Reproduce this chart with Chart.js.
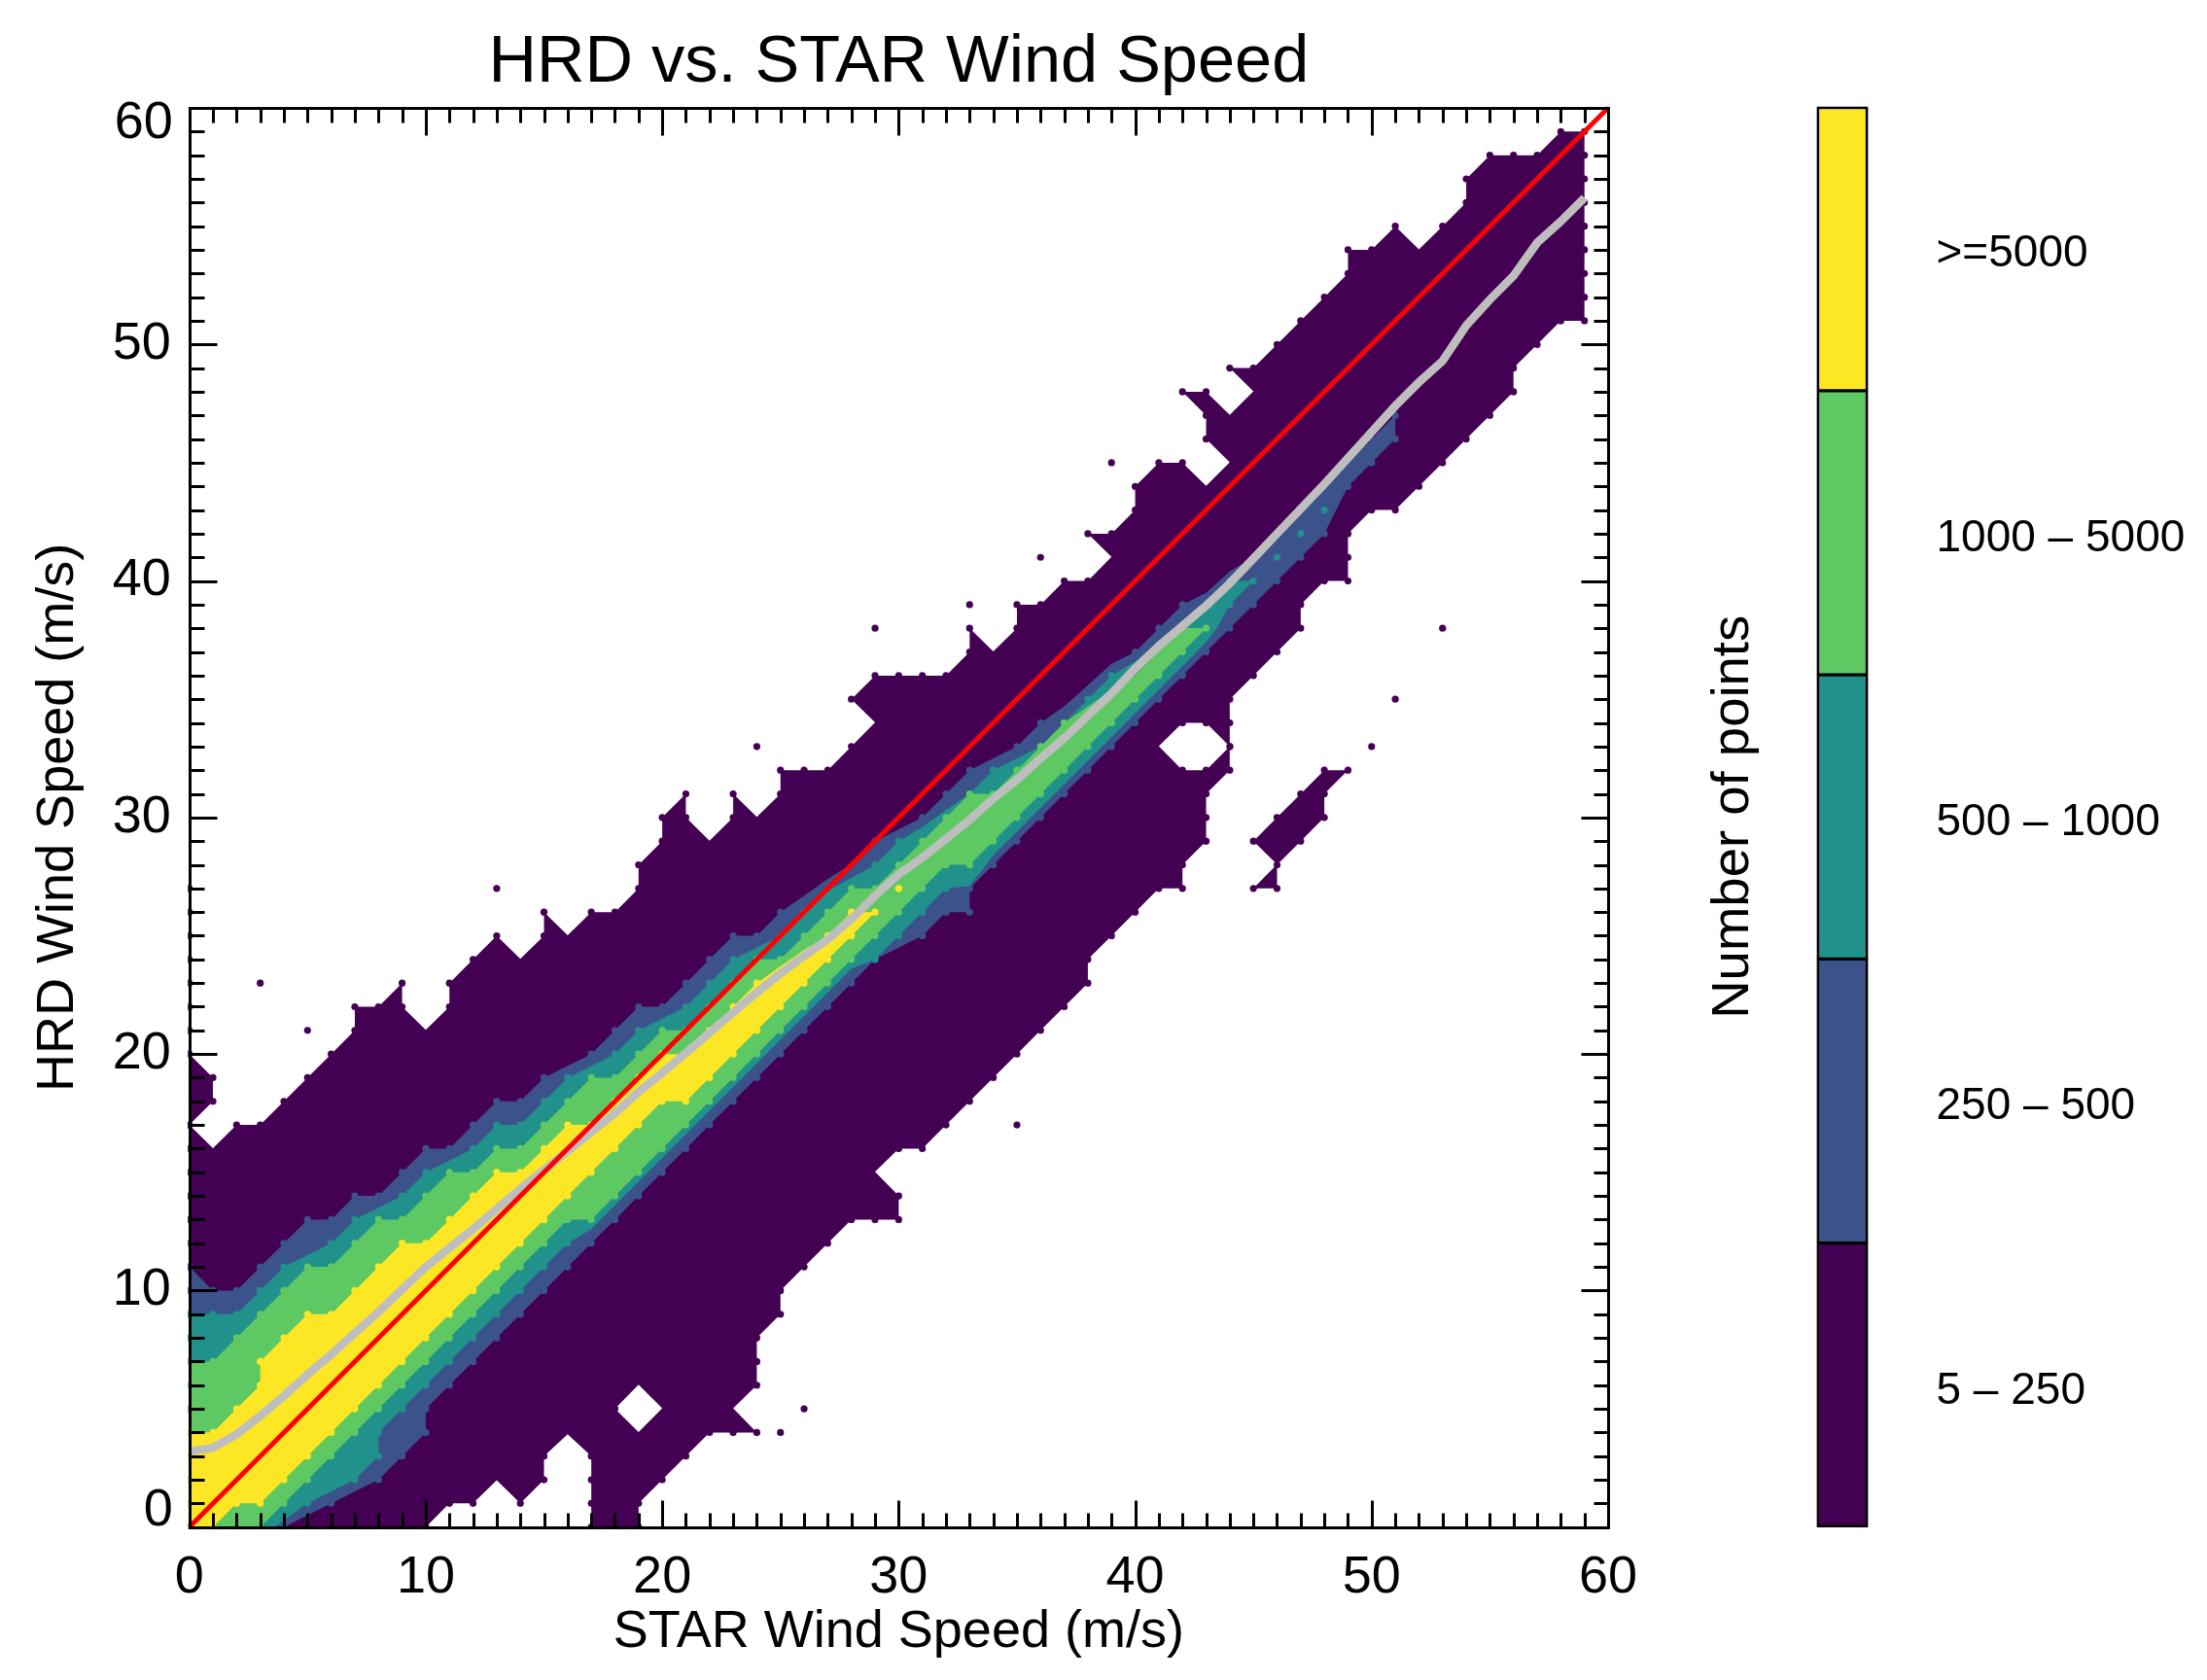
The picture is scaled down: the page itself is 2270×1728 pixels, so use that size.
<!DOCTYPE html>
<html>
<head>
<meta charset="utf-8">
<title>HRD vs. STAR Wind Speed</title>
<script src="https://cdn.jsdelivr.net/npm/chart.js@4"></script>
<style>
    html, body { margin: 0; padding: 0; background: #fff; }
    #wrap { position: relative; width: 2270px; height: 1728px; overflow: hidden; }
    #main-chart { position: absolute; left: 0; top: 0; }
    #colorbar { position: absolute; left: 1700px; top: 0; }
</style>
</head>
<body>
<div id="wrap">
    <canvas id="main-chart" width="2270" height="1728"></canvas>
    <canvas id="colorbar" width="570" height="1728"></canvas>
</div>
<script>
// Contour outlines, [STAR, HRD] in m/s.
// Whole numbers are grid cells (they get a dot), x.02 style values are plain corners of the contour.
const purpleOutline = [
    [0,0],[0,13],[0,14],[0,15],[0,16],[0,17],[1,18],[1,19],[0,20],[0,17],[1,16.02],[2,17],[3,17],[4,18],[5,19],[6,20],[7,21],[7,22],[8,22],[9,23],[9,22],
    [10,21.02],[11,22],[11,23],[12,24],[13,25],[14,24.02],[15,25],[15,26],[16,25.02],[17,26],[18,26],[19,27],[19,28],[20,29],[20,30],[21,31],[21,30],
    [22,29.02],[23,30],[23,31],[24,30.02],[25,31],[25,32],[26,32],[27,32],[28,33],[29,34.02],[28,35],[29,36],[30,36],[31,36],[32,36],[33,37],[33,38],
    [34,37.02],[35,38],[35,39],[36,39],[37,40],[38,40],[39,41.02],[38,42],[39,42],[40,43],[40,44],[41,45],[42,45],[43,44.02],[44,45.02],[43,46],[43,47],
    [42,48],[43,48],[44,47.02],[45,48.02],[44,49],[45,49],[46,50],[47,51],[48,52],[49,53],[49,54],[50,54],[51,55],[52,54.02],[53,55],[54,56],[54,57],
    [55,58],[56,58],[57,58],[58,59],[59,59],[59,58],[59,57],[59,56],[59,55],[59,54],[59,53],[59,52],[59,51],[58,51],[57,50],[56,49],[56,48],[55,47],
    [54,46],[53,45],[52,44],[51,43],[50,43],[49,42],[49,41],[49,40],[48,40],[47,39],[47,38],[46,37],[45,36],[44,35],[44,34],[44,33],[44,32],[43,31],
    [43,30],[43,29],[42,28],[42,27],[41,27],[40,26],[39,25],[38,24],[38,23],[37,22],[36,21],[35,20],[34,19],[33,18],[32,17],[31,16],[30,16],[29,15.02],
    [30,14],[30,13],[29,13],[28,13],[27,12],[26,11],[25,10],[25,9],[24,8],[24,7],[24,6],[23,5.02],[24,4],[23,4],[22,4],[21,3],[20,2],[19,1],[19,0],
    [18,0],[17,0],[17,1],[17,2],[17,3],[16,3.92],[15,3],[15,2],[14,1],[13,1.98],[12,1],[11,1],[10,0],[9,0],[8,0],[7,0],[6,0],[5,0]
];
const purpleHoles = [
    [[18,5],[19,6.02],[20,5.02],[19,4.02]],
    [[41,33.02],[42,34],[43,34],[44,33],[43,32],[42,32]]
];
const purpleIsland = [[45,29],[46,30],[47,31],[48,32],[49,32],[48,31],[48,30],[47,29],[46,28],[46,27],[45,27],[46,28.02]];
const purpleDots = [
    [0,21],[0,22],[0,23],[0,24],[0,25],[0,26],[0,27],[3,23],[5,21],[13,27],[24,33],[25,4],[26,5],[29,38],[33,39],[36,41],[39,45],[35,17],[50,33],[51,35],[53,38]
];
const blueOutline = [
    [0,0],[0,10],[0,11],[0,12],[0,11],[1,10],[2,10],[3,11],[4,12],[5,13],[6,13],[7,14],[8,14],[9,15],[10,16],[11,16],[12,17],[13,18],[14,18],[15,19],
    [16,19.5],[17,20],[18,21],[19,22],[20,22],[21,23],[22,24],[23,25],[24,25],[25,26],[26,26.7],[27,27.4],[28,28.02],[29,29],[30,29.5],[31,30],[32,31],
    [33,32],[34,32.5],[35,33],[36,34],[37,34.7],[37.9,35.5],[39,36.5],[40,37],[41,38],[42,39],[43,39.5],[44,40.4],[45,41],[46,42],[47,43],[48,44],[49,45],
    [50,46],[51,47],[51,46],[50,45],[49,44],[48,42],[47,41],[46,40],[45,39],[44,38],[43,37],[42,36],[41,35],[40,34],[39,33],[38,32],[37,31],[36,30],[35,29],
    [34,28],[33,27],[33,26],[32,26],[31,25],[29,24],[28,23],[27,22],[26,21],[25,20],[24,19],[23,18],[22,17],[21,16],[20,15],[19,14],[18,13],[17,12],[16,11],
    [15,10],[14,9],[13,8],[12,7],[11,6],[10,5],[10,4],[9,3],[8,2],[6,1],[4,0]
];
const tealOutline = [
    [0,0],[0,8],[0,9],[1,9],[2,9],[3,10],[4,11],[6,12],[7,13],[9,14],[10,15],[12,16],[13,17],[14,17],[15,18],[16,19],[18,20],[19,21],[21,22],[22,23],[23,24],
    [25,25],[26,26],[27,26.9],[29,28],[30,29],[31,29.6],[33,31.02],[34,32],[35,32.5],[36,33],[37,34],[38,35],[39,36],[40,36.6],[41,37.4],[42,38.2],[43,39],
    [44,40],[45,40],[44,39],[43.45,38],[43,37.4],[42,36.4],[41,35.4],[40,34.4],[39,33.4],[38,32.4],[37,31.4],[36,30.4],[35,29.4],[34,28.4],[33,27.1],[32,27],
    [31,26],[30,25],[29,24],[28,23.6],[27,22.6],[26,21.6],[25,20.6],[24,19.6],[23,18.6],[22,17.6],[21,16.6],[20,15.6],[19,14.6],[18,13.6],[17,12.6],[16,12],
    [15,11],[14,10],[13,9],[12,8],[11,7],[10,6],[9,5],[8,4],[8,3],[7,2],[5,1],[3.6,0]
];
const tealDots = [[46,41],[47,42],[48,43]];
const greenOutline = [
    [0,0],[0,5],[0,6],[0,7],[1,7],[2,8],[3,9],[4,10],[5,11],[6,11],[7,12],[8,13],[9,13],[10,14],[11,15],[12,15],[13,16],[14,16],[15,17],[16,18],[17,19],
    [18,19],[19,20],[20,21],[21,21],[22,22],[23,23],[24,24],[25,24],[26,25],[27,26],[28,27],[29,27],[30,28],[31,29],[32,30],[33,31],[34,31],[35,32],[36,33],
    [37,34],[38,34.7],[39,35.4],[40,36.02],[41,37.02],[42,38.02],[43,38],[42,37],[41,36],[40,35],[39,34],[38,33],[37,32],[36,31],[35,30],[34,29],[33,28],
    [32,28],[31,27],[30,26],[29,25],[28,24],[27,23],[26,22],[25,21],[24,20],[23,19],[22,18],[21,17],[20,16],[19,15],[18,14],[17,13],[16,13],[15,12],[14,11],
    [13,10],[12,9],[11,8],[10,7],[9,6],[8,5],[7,4],[6,3],[5,2],[4,1],[3,0],[2,0]
];
const yellowOutline = [
    [0,0],[0,1],[0,2],[0,3],[0,4],[1,4],[2,5],[3,6],[3,7],[4,8],[5,9],[6,9],[7,10],[8,11],[9,12],[10,12],[11,13],[12,14],[13,15],[14,15],[15,16],[16,17],
    [17,17],[18,18],[19,19],[20,20],[21,20],[22,21],[23,22],[24,23],[25,23.7],[26,24.4],[27,25],[28,26],[29,26],[28,25],[27,24],[26,23],[25,22],[24,21],
    [23,20],[22,19],[21,18],[20,18],[19,17],[18,16],[17,15],[16,14],[15,13],[14,12],[13,11],[12,10],[11,9],[10,8],[9,7],[8,6],[7,5],[6,4],[5,3],[4,2],[3,1],
    [2,1],[1,0]
];
const yellowDots = [[30,27]];
const medianLine = [
    [0,3.2],[1,3.35],[2,3.93],[3,4.7],[4,5.55],[5,6.45],[6,7.3],[7,8.2],[8,9.1],[9,10.05],[10,11],[11,11.8],[12,12.6],[13,13.45],[14,14.3],[15,15.1],[16,15.9],
    [17,16.7],[18,17.5],[19,18.4],[20,19.2],[21,20.05],[22,20.9],[23,21.75],[24,22.6],[25,23.4],[26,24.15],[27,24.85],[28,25.7],[29,26.7],[30,27.6],[31,28.3],
    [32,29.1],[33,29.9],[34,30.8],[35,31.6],[36,32.5],[37,33.35],[38,34.3],[39,35.25],[40,36.3],[41,37.25],[42,38.1],[43,38.95],[44,39.9],[45,40.95],[46,42],
    [47,43.05],[48,44.1],[49,45.2],[50,46.3],[51,47.4],[52,48.4],[53,49.3],[54,50.8],[55,51.9],[56,52.9],[57,54.3],[58,55.2],[59,56.2]
];
const oneToOneLine = [[0,0],[60,60]];

// Colour bar
const binLabels = ['>=5000', '1000 \u2013 5000', '500 \u2013 1000', '250 \u2013 500', '5 \u2013 250'];
const binColors = ['#fde725', '#5ec962', '#21918c', '#3b528b', '#440154'];
const binHeights = [1, 1, 1, 1, 1];

const [yellow, green, teal, blue, purple] = binColors;
const FONT = '"Liberation Sans", Arial, Helvetica, sans-serif';
Chart.defaults.font.family = FONT;
Chart.defaults.color = '#000';
Chart.defaults.animation = false;

// dots only on real grid cells
function dotRadius(ctx) {
    const p = ctx.raw;
    return p && Number.isInteger(p[0]) && Number.isInteger(p[1]) ? 3.6 : 0;
}

function contour(points, color, order) {
    return {
        data: points, showLine: true, fill: 'shape', backgroundColor: color, borderWidth: 0, order: order,
        pointRadius: dotRadius, pointBackgroundColor: color, pointBorderWidth: 0, clip: 1.5
    };
}

function dots(points, color, order) {
    return { data: points, showLine: false, pointRadius: 3.6, pointBackgroundColor: color, pointBorderWidth: 0, order: order, clip: 1.5 };
}

function hole(points, order) {
    return {
        data: points, showLine: true, fill: 'shape', backgroundColor: '#fff', borderWidth: 0, order: order,
        pointRadius: dotRadius, pointBackgroundColor: purple, pointBorderWidth: 0, clip: 1.5
    };
}

// snap to the pixel grid so 3px strokes stay solid black
function crisp(v) {
    return Math.round(v) + 0.5;
}

// IDL style box: ticks point inward on all four sides, the end labels of the y axis sit inside the box
const boxPlugin = {
    id: 'boxPlugin',
    afterDatasetsDraw(chart) {
        const ctx = chart.ctx;
        const area = chart.chartArea;
        const left = crisp(area.left), right = crisp(area.right), top = crisp(area.top), bottom = crisp(area.bottom);
        const xs = chart.scales.x, ys = chart.scales.y;
        ctx.save();
        ctx.strokeStyle = '#000';
        ctx.lineWidth = 3;
        ctx.beginPath();
        for (let v = 1; v < 60; v++) {
            const len = v % 10 === 0 ? 28 : 15;
            const px = crisp(xs.getPixelForValue(v)), py = crisp(ys.getPixelForValue(v));
            ctx.moveTo(px, bottom); ctx.lineTo(px, bottom - len);
            ctx.moveTo(px, top); ctx.lineTo(px, top + len);
            ctx.moveTo(left, py); ctx.lineTo(left + len, py);
            ctx.moveTo(right, py); ctx.lineTo(right - len, py);
        }
        ctx.stroke();
        ctx.strokeRect(left, top, right - left, bottom - top);
        ctx.fillStyle = '#000';
        ctx.font = '54px ' + FONT;
        ctx.textAlign = 'right';
        ctx.textBaseline = 'middle';
        ctx.fillText('60', area.left - 17, ys.getPixelForValue(60) + 16);
        ctx.fillText('0', area.left - 17, ys.getPixelForValue(0) - 17);
        ctx.restore();
    }
};

new Chart(document.getElementById('main-chart'), {
    type: 'scatter',
    data: {
        datasets: [
            { data: oneToOneLine, showLine: true, borderColor: '#ff0000', borderWidth: 4.8, pointRadius: 0, order: 0, clip: false },
            { data: medianLine, showLine: true, borderColor: '#bebebe', borderWidth: 8.5, pointRadius: 0, order: 1 },
            dots(yellowDots, yellow, 2),
            contour(yellowOutline, yellow, 3),
            contour(greenOutline, green, 4),
            dots(tealDots, teal, 5),
            contour(tealOutline, teal, 6),
            contour(blueOutline, blue, 7),
            hole(purpleHoles[0], 8),
            hole(purpleHoles[1], 9),
            contour(purpleOutline, purple, 10),
            contour(purpleIsland, purple, 11),
            dots(purpleDots, purple, 12)
        ]
    },
    plugins: [boxPlugin],
    options: {
        responsive: false,
        layout: { autoPadding: false, padding: { left: 0, right: 616, top: 0, bottom: 0 } },
        plugins: {
            legend: { display: false },
            tooltip: { enabled: false },
            title: {
                display: true, fullSize: false, text: 'HRD vs. STAR Wind Speed', color: '#000',
                font: { size: 68.5, weight: 'normal' }, padding: { top: 24, bottom: 4.8 }
            }
        },
        scales: {
            x: {
                type: 'linear', min: 0, max: 60,
                grid: { display: false }, border: { display: false },
                ticks: { stepSize: 10, maxRotation: 0, autoSkip: false, font: { size: 54 }, padding: 12 },
                title: { display: true, text: 'STAR Wind Speed (m/s)', font: { size: 54 }, padding: { top: 0, bottom: 16.5 } },
                afterFit(scale) { scale.height = 157.3; }
            },
            y: {
                type: 'linear', min: 0, max: 60,
                grid: { display: false }, border: { display: false },
                ticks: {
                    stepSize: 10, autoSkip: false, font: { size: 54 }, padding: 11,
                    callback: (v) => (v === 0 || v === 60 ? '' : String(v))
                },
                title: { display: true, text: 'HRD Wind Speed (m/s)', font: { size: 54 }, padding: { top: 28, bottom: 0 } },
                afterFit(scale) { scale.width = 194.7; }
            }
        }
    }
});

// Colour bar, stacked from the bottom bin up
const barSets = binHeights.map(function(h, i) {
    const last = binColors.length - 1;
    return {
        data: [h], backgroundColor: binColors[last - i], borderColor: '#000', borderSkipped: false,
        borderWidth: { left: 3, right: 3, top: i === last ? 3 : 2, bottom: i === 0 ? 3 : 2 },
        barPercentage: 1, categoryPercentage: 1
    };
});

new Chart(document.getElementById('colorbar'), {
    type: 'bar',
    data: { labels: [''], datasets: barSets },
    options: {
        responsive: false,
        layout: { autoPadding: false, padding: { left: 0, right: 0, top: 109.5, bottom: 157 } },
        plugins: { legend: { display: false }, tooltip: { enabled: false } },
        scales: {
            x: { stacked: true, display: false },
            y: {
                stacked: true, min: 0, max: 5, position: 'left',
                grid: { display: false }, border: { display: false },
                ticks: { display: false },
                title: { display: true, text: 'Number of points', font: { size: 54.5 }, padding: { top: 50, bottom: 0 } },
                afterFit(scale) { scale.width = 168.5; }
            },
            labels: {
                type: 'linear', min: 0, max: 5, position: 'right',
                grid: { display: false }, border: { display: false },
                afterBuildTicks(scale) { scale.ticks = binLabels.map((l, i) => ({ value: 4.5 - i })); },
                ticks: {
                    font: { size: 46 }, padding: 62, labelOffset: 6,
                    callback: (v) => binLabels[Math.round(4.5 - v)]
                },
                afterFit(scale) { scale.width = 348.5; }
            }
        }
    }
});
</script>
</body>
</html>
